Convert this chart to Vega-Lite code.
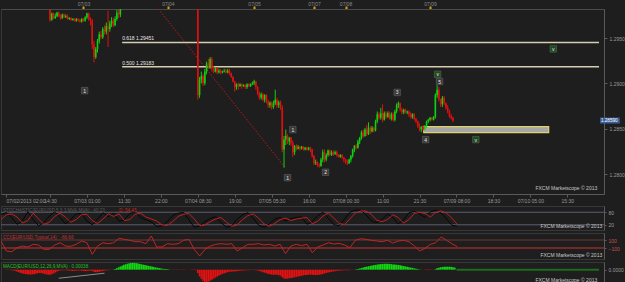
{
"$schema": "https://vega.github.io/schema/vega-lite/v6.json",
"background": "#1e1e1e",
"padding": 0,
"spacing": 1,
"config": {
 "font": "Liberation Sans",
 "view": {"stroke": "#383838", "strokeWidth": 1},
 "axis": {"grid": false, "title": null, "labelFontSize": 5, "labelColor": "#9a9a9a", "domainColor": "#5a5a5a", "tickColor": "#5a5a5a", "labelFont": "Liberation Sans"},
 "title": {"fontSize": 4.6, "font": "Liberation Sans", "fontWeight": "normal", "anchor": "start", "offset": -7, "dx": 2, "frame": "group"},
 "text": {"font": "Liberation Sans"}
},
"datasets": {
 "diag": [{"i": 86.6, "p": 1.2982}, {"i": 158.7, "p": 1.2807}],
 "fib": [{"lv": "0.618", "p": 1.29451, "lbl": "0.618 1.29451"}, {"lv": "0.500", "p": 1.29183, "lbl": "0.500 1.29183"}],
 "zone": [{"x0": 237.4, "x1": 308.4, "p0": 1.28522, "p1": 1.28456}],
 "waves": [
  {"i": 44.7, "p": 1.2892, "t": "1", "k": "w"},
  {"i": 163, "p": 1.2849, "t": "1", "k": "w"},
  {"i": 160, "p": 1.2796, "t": "1", "k": "w"},
  {"i": 181.6, "p": 1.2802, "t": "2", "k": "w"},
  {"i": 222.3, "p": 1.289, "t": "3", "k": "w"},
  {"i": 238.5, "p": 1.2838, "t": "4", "k": "w"},
  {"i": 246.4, "p": 1.2902, "t": "5", "k": "w"},
  {"i": 245.3, "p": 1.291, "t": "v", "k": "s"},
  {"i": 267, "p": 1.2838, "t": "v", "k": "s"},
  {"i": 311, "p": 1.2938, "t": "v", "k": "s"}
 ],
 "candles": [
  {"i":25,"o":1.2981,"h":1.2982,"l":1.2968,"c":1.2970},
  {"i":26,"o":1.2970,"h":1.2978,"l":1.2969,"c":1.2977},
  {"i":27,"o":1.2977,"h":1.2978,"l":1.2971,"c":1.2972},
  {"i":28,"o":1.2972,"h":1.2977,"l":1.2971,"c":1.2974},
  {"i":29,"o":1.2974,"h":1.2979,"l":1.2973,"c":1.2978},
  {"i":30,"o":1.2978,"h":1.2979,"l":1.2973,"c":1.2974},
  {"i":31,"o":1.2974,"h":1.2976,"l":1.2970,"c":1.2972},
  {"i":32,"o":1.2972,"h":1.2977,"l":1.2971,"c":1.2976},
  {"i":33,"o":1.2976,"h":1.2977,"l":1.2972,"c":1.2973},
  {"i":34,"o":1.2973,"h":1.2976,"l":1.2972,"c":1.2974},
  {"i":35,"o":1.2974,"h":1.2976,"l":1.2970,"c":1.2971},
  {"i":36,"o":1.2971,"h":1.2973,"l":1.2970,"c":1.2972},
  {"i":37,"o":1.2972,"h":1.2973,"l":1.2969,"c":1.2970},
  {"i":38,"o":1.2970,"h":1.2972,"l":1.2969,"c":1.2971},
  {"i":39,"o":1.2971,"h":1.2972,"l":1.2968,"c":1.2969},
  {"i":40,"o":1.2969,"h":1.2972,"l":1.2968,"c":1.2971},
  {"i":41,"o":1.2971,"h":1.2972,"l":1.2968,"c":1.2970},
  {"i":42,"o":1.2970,"h":1.2971,"l":1.2967,"c":1.2968},
  {"i":43,"o":1.2968,"h":1.2972,"l":1.2967,"c":1.2971},
  {"i":44,"o":1.2971,"h":1.2972,"l":1.2968,"c":1.2969},
  {"i":45,"o":1.2969,"h":1.2974,"l":1.2968,"c":1.2973},
  {"i":46,"o":1.2973,"h":1.2978,"l":1.2971,"c":1.2977},
  {"i":47,"o":1.2977,"h":1.2978,"l":1.2969,"c":1.2971},
  {"i":48,"o":1.2971,"h":1.2973,"l":1.2964,"c":1.2969},
  {"i":49,"o":1.2969,"h":1.2971,"l":1.2938,"c":1.2943},
  {"i":50,"o":1.2943,"h":1.2947,"l":1.2923,"c":1.2929},
  {"i":51,"o":1.2929,"h":1.2940,"l":1.2927,"c":1.2938},
  {"i":52,"o":1.2938,"h":1.2949,"l":1.2934,"c":1.2947},
  {"i":53,"o":1.2947,"h":1.2957,"l":1.2944,"c":1.2954},
  {"i":54,"o":1.2954,"h":1.2958,"l":1.2949,"c":1.2951},
  {"i":55,"o":1.2951,"h":1.2962,"l":1.2949,"c":1.2960},
  {"i":56,"o":1.2960,"h":1.2964,"l":1.2954,"c":1.2957},
  {"i":57,"o":1.2957,"h":1.2967,"l":1.2954,"c":1.2963},
  {"i":58,"o":1.2963,"h":1.2980,"l":1.2940,"c":1.2960},
  {"i":59,"o":1.2960,"h":1.2969,"l":1.2957,"c":1.2966},
  {"i":60,"o":1.2966,"h":1.2973,"l":1.2962,"c":1.2969},
  {"i":61,"o":1.2969,"h":1.2972,"l":1.2962,"c":1.2964},
  {"i":62,"o":1.2964,"h":1.2974,"l":1.2963,"c":1.2971},
  {"i":63,"o":1.2971,"h":1.2981,"l":1.2969,"c":1.2978},
  {"i":64,"o":1.2978,"h":1.2982,"l":1.2972,"c":1.2976},
  {"i":65,"o":1.2976,"h":1.2988,"l":1.2973,"c":1.2984},
  {"i":66,"o":1.2984,"h":1.2993,"l":1.2982,"c":1.2991},
  {"i":109,"o":1.3007,"h":1.3010,"l":1.2882,"c":1.2887},
  {"i":110,"o":1.2887,"h":1.2907,"l":1.2884,"c":1.2904},
  {"i":111,"o":1.2904,"h":1.2913,"l":1.2900,"c":1.2908},
  {"i":112,"o":1.2908,"h":1.2910,"l":1.2897,"c":1.2900},
  {"i":113,"o":1.2900,"h":1.2916,"l":1.2898,"c":1.2913},
  {"i":114,"o":1.2913,"h":1.2924,"l":1.2910,"c":1.2922},
  {"i":115,"o":1.2922,"h":1.2927,"l":1.2916,"c":1.2918},
  {"i":116,"o":1.2918,"h":1.2929,"l":1.2916,"c":1.2927},
  {"i":117,"o":1.2927,"h":1.2929,"l":1.2913,"c":1.2916},
  {"i":118,"o":1.2916,"h":1.2919,"l":1.2911,"c":1.2913},
  {"i":119,"o":1.2913,"h":1.2918,"l":1.2912,"c":1.2917},
  {"i":120,"o":1.2917,"h":1.2918,"l":1.2910,"c":1.2912},
  {"i":121,"o":1.2912,"h":1.2916,"l":1.2911,"c":1.2914},
  {"i":122,"o":1.2914,"h":1.2916,"l":1.2910,"c":1.2912},
  {"i":123,"o":1.2912,"h":1.2914,"l":1.2911,"c":1.2913},
  {"i":124,"o":1.2913,"h":1.2916,"l":1.2912,"c":1.2914},
  {"i":125,"o":1.2914,"h":1.2916,"l":1.2911,"c":1.2912},
  {"i":126,"o":1.2912,"h":1.2916,"l":1.2911,"c":1.2914},
  {"i":127,"o":1.2914,"h":1.2916,"l":1.2909,"c":1.2911},
  {"i":128,"o":1.2911,"h":1.2912,"l":1.2906,"c":1.2907},
  {"i":129,"o":1.2907,"h":1.2908,"l":1.2901,"c":1.2902},
  {"i":130,"o":1.2902,"h":1.2903,"l":1.2891,"c":1.2896},
  {"i":131,"o":1.2896,"h":1.2900,"l":1.2893,"c":1.2899},
  {"i":132,"o":1.2899,"h":1.2901,"l":1.2893,"c":1.2897},
  {"i":133,"o":1.2897,"h":1.2900,"l":1.2896,"c":1.2899},
  {"i":134,"o":1.2899,"h":1.2900,"l":1.2894,"c":1.2897},
  {"i":135,"o":1.2897,"h":1.2899,"l":1.2896,"c":1.2898},
  {"i":136,"o":1.2898,"h":1.2899,"l":1.2894,"c":1.2896},
  {"i":137,"o":1.2896,"h":1.2900,"l":1.2894,"c":1.2899},
  {"i":138,"o":1.2899,"h":1.2900,"l":1.2896,"c":1.2897},
  {"i":139,"o":1.2897,"h":1.2900,"l":1.2896,"c":1.2899},
  {"i":140,"o":1.2899,"h":1.2902,"l":1.2898,"c":1.2900},
  {"i":141,"o":1.2900,"h":1.2904,"l":1.2898,"c":1.2902},
  {"i":142,"o":1.2902,"h":1.2903,"l":1.2893,"c":1.2896},
  {"i":143,"o":1.2896,"h":1.2897,"l":1.2887,"c":1.2889},
  {"i":144,"o":1.2889,"h":1.2891,"l":1.2882,"c":1.2884},
  {"i":145,"o":1.2884,"h":1.2890,"l":1.2882,"c":1.2888},
  {"i":146,"o":1.2888,"h":1.2889,"l":1.2880,"c":1.2882},
  {"i":147,"o":1.2882,"h":1.2888,"l":1.2879,"c":1.2887},
  {"i":148,"o":1.2887,"h":1.2888,"l":1.2878,"c":1.2880},
  {"i":149,"o":1.2880,"h":1.2882,"l":1.2873,"c":1.2876},
  {"i":150,"o":1.2876,"h":1.2880,"l":1.2873,"c":1.2879},
  {"i":151,"o":1.2879,"h":1.2880,"l":1.2871,"c":1.2874},
  {"i":152,"o":1.2874,"h":1.2881,"l":1.2872,"c":1.2878},
  {"i":153,"o":1.2878,"h":1.2893,"l":1.2876,"c":1.2882},
  {"i":154,"o":1.2882,"h":1.2884,"l":1.2873,"c":1.2876},
  {"i":155,"o":1.2876,"h":1.2881,"l":1.2873,"c":1.2879},
  {"i":156,"o":1.2879,"h":1.2881,"l":1.2871,"c":1.2873},
  {"i":157,"o":1.2873,"h":1.2876,"l":1.2824,"c":1.2827},
  {"i":158,"o":1.2827,"h":1.2842,"l":1.2807,"c":1.2838},
  {"i":159,"o":1.2838,"h":1.2849,"l":1.2832,"c":1.2842},
  {"i":160,"o":1.2842,"h":1.2844,"l":1.2833,"c":1.2836},
  {"i":161,"o":1.2836,"h":1.2841,"l":1.2832,"c":1.2840},
  {"i":162,"o":1.2840,"h":1.2841,"l":1.2831,"c":1.2834},
  {"i":163,"o":1.2834,"h":1.2837,"l":1.2819,"c":1.2824},
  {"i":164,"o":1.2824,"h":1.2832,"l":1.2821,"c":1.2831},
  {"i":165,"o":1.2831,"h":1.2833,"l":1.2826,"c":1.2828},
  {"i":166,"o":1.2828,"h":1.2832,"l":1.2827,"c":1.2830},
  {"i":167,"o":1.2830,"h":1.2831,"l":1.2826,"c":1.2828},
  {"i":168,"o":1.2828,"h":1.2831,"l":1.2827,"c":1.2830},
  {"i":169,"o":1.2830,"h":1.2831,"l":1.2826,"c":1.2827},
  {"i":170,"o":1.2827,"h":1.2830,"l":1.2826,"c":1.2829},
  {"i":171,"o":1.2829,"h":1.2830,"l":1.2826,"c":1.2827},
  {"i":172,"o":1.2827,"h":1.2830,"l":1.2826,"c":1.2829},
  {"i":173,"o":1.2829,"h":1.2830,"l":1.2824,"c":1.2827},
  {"i":174,"o":1.2827,"h":1.2828,"l":1.2818,"c":1.2820},
  {"i":175,"o":1.2820,"h":1.2821,"l":1.2810,"c":1.2812},
  {"i":176,"o":1.2812,"h":1.2816,"l":1.2810,"c":1.2813},
  {"i":177,"o":1.2813,"h":1.2814,"l":1.2808,"c":1.2810},
  {"i":178,"o":1.2810,"h":1.2812,"l":1.2807,"c":1.2809},
  {"i":179,"o":1.2809,"h":1.2818,"l":1.2808,"c":1.2816},
  {"i":180,"o":1.2816,"h":1.2827,"l":1.2813,"c":1.2824},
  {"i":181,"o":1.2824,"h":1.2827,"l":1.2813,"c":1.2816},
  {"i":182,"o":1.2816,"h":1.2823,"l":1.2814,"c":1.2821},
  {"i":183,"o":1.2821,"h":1.2827,"l":1.2819,"c":1.2826},
  {"i":184,"o":1.2826,"h":1.2827,"l":1.2820,"c":1.2821},
  {"i":185,"o":1.2821,"h":1.2826,"l":1.2820,"c":1.2824},
  {"i":186,"o":1.2824,"h":1.2826,"l":1.2820,"c":1.2822},
  {"i":187,"o":1.2822,"h":1.2826,"l":1.2821,"c":1.2824},
  {"i":188,"o":1.2824,"h":1.2826,"l":1.2819,"c":1.2821},
  {"i":189,"o":1.2821,"h":1.2822,"l":1.2818,"c":1.2819},
  {"i":190,"o":1.2819,"h":1.2822,"l":1.2818,"c":1.2821},
  {"i":191,"o":1.2821,"h":1.2822,"l":1.2817,"c":1.2818},
  {"i":192,"o":1.2818,"h":1.2819,"l":1.2813,"c":1.2816},
  {"i":193,"o":1.2816,"h":1.2817,"l":1.2811,"c":1.2813},
  {"i":194,"o":1.2813,"h":1.2816,"l":1.2810,"c":1.2812},
  {"i":195,"o":1.2812,"h":1.2817,"l":1.2811,"c":1.2816},
  {"i":196,"o":1.2816,"h":1.2821,"l":1.2813,"c":1.2820},
  {"i":197,"o":1.2820,"h":1.2828,"l":1.2818,"c":1.2827},
  {"i":198,"o":1.2827,"h":1.2832,"l":1.2824,"c":1.2831},
  {"i":199,"o":1.2831,"h":1.2833,"l":1.2827,"c":1.2829},
  {"i":200,"o":1.2829,"h":1.2838,"l":1.2828,"c":1.2836},
  {"i":201,"o":1.2836,"h":1.2841,"l":1.2833,"c":1.2840},
  {"i":202,"o":1.2840,"h":1.2848,"l":1.2838,"c":1.2846},
  {"i":203,"o":1.2846,"h":1.2849,"l":1.2840,"c":1.2842},
  {"i":204,"o":1.2842,"h":1.2851,"l":1.2841,"c":1.2849},
  {"i":205,"o":1.2849,"h":1.2854,"l":1.2842,"c":1.2844},
  {"i":206,"o":1.2844,"h":1.2857,"l":1.2843,"c":1.2851},
  {"i":207,"o":1.2851,"h":1.2853,"l":1.2844,"c":1.2847},
  {"i":208,"o":1.2847,"h":1.2853,"l":1.2846,"c":1.2851},
  {"i":209,"o":1.2851,"h":1.2852,"l":1.2846,"c":1.2848},
  {"i":210,"o":1.2848,"h":1.2860,"l":1.2847,"c":1.2858},
  {"i":211,"o":1.2858,"h":1.2869,"l":1.2856,"c":1.2866},
  {"i":212,"o":1.2866,"h":1.2868,"l":1.2860,"c":1.2862},
  {"i":213,"o":1.2862,"h":1.2873,"l":1.2860,"c":1.2867},
  {"i":214,"o":1.2867,"h":1.2877,"l":1.2857,"c":1.2860},
  {"i":215,"o":1.2860,"h":1.2869,"l":1.2859,"c":1.2867},
  {"i":216,"o":1.2867,"h":1.2869,"l":1.2861,"c":1.2863},
  {"i":217,"o":1.2863,"h":1.2869,"l":1.2862,"c":1.2867},
  {"i":218,"o":1.2867,"h":1.2869,"l":1.2860,"c":1.2861},
  {"i":219,"o":1.2861,"h":1.2868,"l":1.2859,"c":1.2866},
  {"i":220,"o":1.2866,"h":1.2868,"l":1.2858,"c":1.2860},
  {"i":221,"o":1.2860,"h":1.2871,"l":1.2858,"c":1.2869},
  {"i":222,"o":1.2869,"h":1.2878,"l":1.2867,"c":1.2876},
  {"i":223,"o":1.2876,"h":1.2880,"l":1.2873,"c":1.2878},
  {"i":224,"o":1.2878,"h":1.2879,"l":1.2869,"c":1.2871},
  {"i":225,"o":1.2871,"h":1.2873,"l":1.2866,"c":1.2868},
  {"i":226,"o":1.2868,"h":1.2872,"l":1.2866,"c":1.2871},
  {"i":227,"o":1.2871,"h":1.2872,"l":1.2867,"c":1.2868},
  {"i":228,"o":1.2868,"h":1.2870,"l":1.2866,"c":1.2869},
  {"i":229,"o":1.2869,"h":1.2870,"l":1.2863,"c":1.2866},
  {"i":230,"o":1.2866,"h":1.2868,"l":1.2861,"c":1.2863},
  {"i":231,"o":1.2863,"h":1.2867,"l":1.2861,"c":1.2866},
  {"i":232,"o":1.2866,"h":1.2867,"l":1.2859,"c":1.2861},
  {"i":233,"o":1.2861,"h":1.2862,"l":1.2856,"c":1.2858},
  {"i":234,"o":1.2858,"h":1.2859,"l":1.2851,"c":1.2853},
  {"i":235,"o":1.2853,"h":1.2856,"l":1.2847,"c":1.2849},
  {"i":236,"o":1.2849,"h":1.2853,"l":1.2846,"c":1.2852},
  {"i":237,"o":1.2852,"h":1.2854,"l":1.2848,"c":1.2849},
  {"i":238,"o":1.2849,"h":1.2854,"l":1.2848,"c":1.2853},
  {"i":239,"o":1.2853,"h":1.2859,"l":1.2851,"c":1.2858},
  {"i":240,"o":1.2858,"h":1.2861,"l":1.2856,"c":1.2860},
  {"i":241,"o":1.2860,"h":1.2863,"l":1.2858,"c":1.2862},
  {"i":242,"o":1.2862,"h":1.2863,"l":1.2859,"c":1.2860},
  {"i":243,"o":1.2860,"h":1.2864,"l":1.2859,"c":1.2863},
  {"i":244,"o":1.2863,"h":1.2889,"l":1.2861,"c":1.2887},
  {"i":245,"o":1.2887,"h":1.2898,"l":1.2884,"c":1.2893},
  {"i":246,"o":1.2893,"h":1.2896,"l":1.2880,"c":1.2882},
  {"i":247,"o":1.2882,"h":1.2883,"l":1.2874,"c":1.2877},
  {"i":248,"o":1.2877,"h":1.2886,"l":1.2874,"c":1.2884},
  {"i":249,"o":1.2884,"h":1.2886,"l":1.2876,"c":1.2878},
  {"i":250,"o":1.2878,"h":1.2879,"l":1.2871,"c":1.2873},
  {"i":251,"o":1.2873,"h":1.2876,"l":1.2867,"c":1.2869},
  {"i":252,"o":1.2869,"h":1.2871,"l":1.2862,"c":1.2864},
  {"i":253,"o":1.2864,"h":1.2866,"l":1.2860,"c":1.2862},
  {"i":254,"o":1.2862,"h":1.2863,"l":1.2857,"c":1.2859}
 ],
 "osc": [
  {"i":0,"k":70,"d":45,"cci":75},{"i":3,"k":78,"d":68,"cci":-175},{"i":6,"k":55,"d":72,"cci":-192},{"i":9,"k":22,"d":57,"cci":-92},
  {"i":12,"k":40,"d":28,"cci":-50},{"i":15,"k":82,"d":40,"cci":-75},{"i":18,"k":45,"d":76,"cci":-8},{"i":21,"k":15,"d":48,"cci":-25},
  {"i":24,"k":30,"d":22,"cci":-133},{"i":27,"k":62,"d":32,"cci":-133},{"i":30,"k":82,"d":60,"cci":-25},{"i":33,"k":55,"d":76,"cci":33},
  {"i":36,"k":25,"d":57,"cci":-50},{"i":39,"k":45,"d":32,"cci":-58},{"i":42,"k":72,"d":45,"cci":-8},{"i":45,"k":74,"d":68,"cci":75},
  {"i":48,"k":38,"d":70,"cci":33},{"i":51,"k":20,"d":40,"cci":-258},{"i":54,"k":48,"d":26,"cci":-50},{"i":57,"k":78,"d":48,"cci":33},
  {"i":60,"k":58,"d":72,"cci":8},{"i":63,"k":76,"d":60,"cci":33},{"i":66,"k":36,"d":72,"cci":142},{"i":69,"k":44,"d":40,"cci":117},
  {"i":72,"k":74,"d":45,"cci":92},{"i":75,"k":82,"d":70,"cci":58},{"i":78,"k":55,"d":76,"cci":58},{"i":81,"k":44,"d":57,"cci":8},
  {"i":84,"k":34,"d":48,"cci":200},{"i":87,"k":12,"d":38,"cci":-75},{"i":90,"k":14,"d":19,"cci":-75},{"i":93,"k":36,"d":18,"cci":8},
  {"i":96,"k":64,"d":35,"cci":-8},{"i":99,"k":75,"d":60,"cci":8},{"i":102,"k":80,"d":70,"cci":92},{"i":105,"k":44,"d":74,"cci":117},
  {"i":108,"k":8,"d":48,"cci":-133},{"i":111,"k":14,"d":16,"cci":-300},{"i":114,"k":35,"d":19,"cci":-133},{"i":117,"k":50,"d":35,"cci":-50},
  {"i":120,"k":58,"d":48,"cci":-8},{"i":123,"k":30,"d":55,"cci":8},{"i":126,"k":8,"d":32,"cci":-8},{"i":129,"k":15,"d":13,"cci":8},
  {"i":132,"k":47,"d":19,"cci":-175},{"i":135,"k":68,"d":45,"cci":-92},{"i":138,"k":78,"d":64,"cci":-8},{"i":141,"k":50,"d":72,"cci":-8},
  {"i":144,"k":18,"d":52,"cci":8},{"i":147,"k":8,"d":24,"cci":-25},{"i":150,"k":24,"d":13,"cci":-8},{"i":153,"k":47,"d":26,"cci":-50},
  {"i":156,"k":55,"d":45,"cci":-8},{"i":159,"k":38,"d":52,"cci":-242},{"i":162,"k":49,"d":40,"cci":-50},{"i":165,"k":54,"d":48,"cci":-8},
  {"i":168,"k":58,"d":52,"cci":-42},{"i":171,"k":22,"d":55,"cci":-8},{"i":174,"k":35,"d":25,"cci":-217},{"i":177,"k":64,"d":37,"cci":-75},
  {"i":180,"k":80,"d":62,"cci":-25},{"i":183,"k":50,"d":76,"cci":33},{"i":186,"k":20,"d":52,"cci":0},{"i":189,"k":16,"d":26,"cci":17},
  {"i":192,"k":48,"d":21,"cci":-25},{"i":195,"k":80,"d":48,"cci":-92},{"i":198,"k":90,"d":76,"cci":92},{"i":201,"k":90,"d":86,"cci":133},
  {"i":204,"k":68,"d":86,"cci":117},{"i":207,"k":38,"d":70,"cci":92},{"i":210,"k":30,"d":42,"cci":75},{"i":213,"k":46,"d":35,"cci":58},
  {"i":216,"k":72,"d":45,"cci":92},{"i":219,"k":55,"d":68,"cci":25},{"i":222,"k":24,"d":55,"cci":75},{"i":225,"k":44,"d":28,"cci":92},
  {"i":228,"k":78,"d":45,"cci":58},{"i":231,"k":84,"d":74,"cci":-50},{"i":234,"k":72,"d":80,"cci":-175},{"i":237,"k":55,"d":74,"cci":-108},
  {"i":240,"k":82,"d":57,"cci":-8},{"i":243,"k":90,"d":80,"cci":33},{"i":246,"k":76,"d":86,"cci":175},{"i":249,"k":48,"d":76,"cci":92},
  {"i":252,"k":18,"d":52,"cci":8},{"i":255,"k":12,"d":22,"cci":-67}
 ],
 "macd": [
  {"i":0,"m":-0.00003},{"i":1,"m":-0.00004},{"i":2,"m":-0.00003},{"i":3,"m":-0.00005},{"i":4,"m":-0.00008},{"i":5,"m":-0.00012},{"i":6,"m":-0.00018},{"i":7,"m":-0.00025},{"i":8,"m":-0.00032},{"i":9,"m":-0.00038},
  {"i":10,"m":-0.00043},{"i":11,"m":-0.00046},{"i":12,"m":-0.00048},{"i":13,"m":-0.0005},{"i":14,"m":-0.00051},{"i":15,"m":-0.0005},{"i":16,"m":-0.00047},{"i":17,"m":-0.00042},{"i":18,"m":-0.00038},{"i":19,"m":-0.00035},
  {"i":20,"m":-0.00036},{"i":21,"m":-0.0004},{"i":22,"m":-0.00045},{"i":23,"m":-0.0005},{"i":24,"m":-0.00053},{"i":25,"m":-0.00052},{"i":26,"m":-0.00048},{"i":27,"m":-0.0004},{"i":28,"m":-0.0003},{"i":29,"m":-0.0002},
  {"i":30,"m":-0.00012},{"i":31,"m":-0.00008},{"i":32,"m":-0.00006},{"i":33,"m":-0.00005},{"i":34,"m":-0.00006},{"i":35,"m":-0.00008},{"i":36,"m":-0.0001},{"i":37,"m":-0.00012},{"i":38,"m":-0.00013},{"i":39,"m":-0.00012},
  {"i":40,"m":-0.0001},{"i":41,"m":-0.00009},{"i":42,"m":-0.0001},{"i":43,"m":-0.00012},{"i":44,"m":-0.00014},{"i":45,"m":-0.00015},{"i":46,"m":-0.00014},{"i":47,"m":-0.00012},{"i":48,"m":-0.0001},{"i":49,"m":-0.00014},
  {"i":50,"m":-0.00022},{"i":51,"m":-0.00026},{"i":52,"m":-0.00025},{"i":53,"m":-0.00022},{"i":54,"m":-0.00018},{"i":55,"m":-0.00014},{"i":56,"m":-0.0001},{"i":57,"m":-0.00007},{"i":58,"m":-0.00005},{"i":59,"m":-0.00003},
  {"i":60,"m":-0.00001},{"i":61,"m":0.00002},{"i":62,"m":0.00008},{"i":63,"m":0.00015},{"i":64,"m":0.00024},{"i":65,"m":0.00033},{"i":66,"m":0.00042},{"i":67,"m":0.0005},{"i":68,"m":0.00056},{"i":69,"m":0.00062},
  {"i":70,"m":0.00066},{"i":71,"m":0.0007},{"i":72,"m":0.00071},{"i":73,"m":0.0007},{"i":74,"m":0.00068},{"i":75,"m":0.00064},{"i":76,"m":0.0006},{"i":77,"m":0.00056},{"i":78,"m":0.00052},{"i":79,"m":0.00048},
  {"i":80,"m":0.00044},{"i":81,"m":0.0004},{"i":82,"m":0.00036},{"i":83,"m":0.00032},{"i":84,"m":0.00028},{"i":85,"m":0.00024},{"i":86,"m":0.0002},{"i":87,"m":0.00016},{"i":88,"m":0.00013},{"i":89,"m":0.0001},
  {"i":90,"m":0.00008},{"i":91,"m":0.00006},{"i":92,"m":0.00004},{"i":93,"m":0.00002},{"i":94,"m":-0.00001},{"i":95,"m":-0.00002},{"i":96,"m":-0.00003},{"i":97,"m":-0.00003},{"i":98,"m":-0.00002},{"i":99,"m":-0.00002},
  {"i":100,"m":-0.00003},{"i":101,"m":-0.00003},{"i":102,"m":-0.00002},{"i":103,"m":-0.00001},{"i":104,"m":-0.00001},{"i":105,"m":-0.00002},{"i":106,"m":-0.00003},{"i":107,"m":-0.00004},{"i":108,"m":-0.00006},{"i":109,"m":-0.00035},
  {"i":110,"m":-0.0007},{"i":111,"m":-0.00095},{"i":112,"m":-0.00115},{"i":113,"m":-0.00128},{"i":114,"m":-0.0013},{"i":115,"m":-0.00125},{"i":116,"m":-0.00116},{"i":117,"m":-0.00105},{"i":118,"m":-0.00094},{"i":119,"m":-0.00083},
  {"i":120,"m":-0.00072},{"i":121,"m":-0.00062},{"i":122,"m":-0.00053},{"i":123,"m":-0.00045},{"i":124,"m":-0.00038},{"i":125,"m":-0.00032},{"i":126,"m":-0.00026},{"i":127,"m":-0.00022},{"i":128,"m":-0.0002},{"i":129,"m":-0.00019},
  {"i":130,"m":-0.00018},{"i":131,"m":-0.00016},{"i":132,"m":-0.00014},{"i":133,"m":-0.00012},{"i":134,"m":-0.0001},{"i":135,"m":-0.00008},{"i":136,"m":-0.00007},{"i":137,"m":-0.00006},{"i":138,"m":-0.00005},{"i":139,"m":-0.00004},
  {"i":140,"m":-0.00004},{"i":141,"m":-0.00003},{"i":142,"m":-0.00005},{"i":143,"m":-0.00009},{"i":144,"m":-0.00014},{"i":145,"m":-0.0002},{"i":146,"m":-0.00026},{"i":147,"m":-0.00032},{"i":148,"m":-0.00038},{"i":149,"m":-0.00044},
  {"i":150,"m":-0.00048},{"i":151,"m":-0.00052},{"i":152,"m":-0.00054},{"i":153,"m":-0.00053},{"i":154,"m":-0.00054},{"i":155,"m":-0.00058},{"i":156,"m":-0.00062},{"i":157,"m":-0.0008},{"i":158,"m":-0.00092},{"i":159,"m":-0.00096},
  {"i":160,"m":-0.00094},{"i":161,"m":-0.0009},{"i":162,"m":-0.00086},{"i":163,"m":-0.00084},{"i":164,"m":-0.0008},{"i":165,"m":-0.00076},{"i":166,"m":-0.00072},{"i":167,"m":-0.00068},{"i":168,"m":-0.00064},{"i":169,"m":-0.0006},
  {"i":170,"m":-0.00057},{"i":171,"m":-0.00055},{"i":172,"m":-0.00053},{"i":173,"m":-0.00052},{"i":174,"m":-0.00053},{"i":175,"m":-0.00056},{"i":176,"m":-0.00057},{"i":177,"m":-0.00056},{"i":178,"m":-0.00054},{"i":179,"m":-0.0005},
  {"i":180,"m":-0.00046},{"i":181,"m":-0.0004},{"i":182,"m":-0.00035},{"i":183,"m":-0.0003},{"i":184,"m":-0.00026},{"i":185,"m":-0.00022},{"i":186,"m":-0.00019},{"i":187,"m":-0.00016},{"i":188,"m":-0.00013},{"i":189,"m":-0.00011},
  {"i":190,"m":-0.00009},{"i":191,"m":-0.00008},{"i":192,"m":-0.00007},{"i":193,"m":-0.00007},{"i":194,"m":-0.00006},{"i":195,"m":-0.00005},{"i":196,"m":-0.00004},{"i":197,"m":-0.00002},{"i":198,"m":0.00001},{"i":199,"m":0.00004},
  {"i":200,"m":0.00008},{"i":201,"m":0.00012},{"i":202,"m":0.00017},{"i":203,"m":0.00022},{"i":204,"m":0.00027},{"i":205,"m":0.00031},{"i":206,"m":0.00035},{"i":207,"m":0.00039},{"i":208,"m":0.00043},{"i":209,"m":0.00047},
  {"i":210,"m":0.0005},{"i":211,"m":0.00053},{"i":212,"m":0.00056},{"i":213,"m":0.00058},{"i":214,"m":0.0006},{"i":215,"m":0.00061},{"i":216,"m":0.00062},{"i":217,"m":0.00061},{"i":218,"m":0.0006},{"i":219,"m":0.00058},
  {"i":220,"m":0.00055},{"i":221,"m":0.00053},{"i":222,"m":0.00051},{"i":223,"m":0.00049},{"i":224,"m":0.00046},{"i":225,"m":0.00042},{"i":226,"m":0.00038},{"i":227,"m":0.00034},{"i":228,"m":0.0003},{"i":229,"m":0.00026},
  {"i":230,"m":0.00022},{"i":231,"m":0.00018},{"i":232,"m":0.00014},{"i":233,"m":0.0001},{"i":234,"m":0.00006},{"i":235,"m":0.00003},{"i":236,"m":0.00001},{"i":237,"m":-0.00002},{"i":238,"m":-0.00004},{"i":239,"m":-0.00005},
  {"i":240,"m":-0.00005},{"i":241,"m":-0.00004},{"i":242,"m":-0.00003},{"i":243,"m":-0.00001},{"i":244,"m":0.00006},{"i":245,"m":0.00014},{"i":246,"m":0.0002},{"i":247,"m":0.00025},{"i":248,"m":0.00028},{"i":249,"m":0.0003},
  {"i":250,"m":0.00031},{"i":251,"m":0.00031},{"i":252,"m":0.0003},{"i":253,"m":0.00029},{"i":254,"m":0.00026},{"i":255,"m":0.00022}
 ]
},
"vconcat": [
 {
  "width": 603, "height": 185,
  "resolve": {"axis": {"x": "independent"}},
  "layer": [
   {
    "data": {"name": "diag"},
    "mark": {"type": "line", "color": "#b81a1a", "strokeWidth": 1, "strokeDash": [1.5, 1.5], "clip": true},
    "encoding": {
     "x": {"field": "i", "type": "quantitative", "scale": {"domain": [0, 337], "nice": false, "zero": false},
      "axis": {"orient": "top", "values": [44, 92, 141, 175, 193, 241], "labelExpr": "['07/03','07/04','07/05','07/07','07/08','07/09'][indexof([44,92,141,175,193,241], datum.value)]", "tickColor": "#d4a017", "tickWidth": 2, "tickSize": 3, "labelPadding": 0, "labelColor": "#8a8a8a", "domainColor": "#4a4a4a"}},
     "y": {"field": "p", "type": "quantitative", "scale": {"domain": [1.2778, 1.2982], "nice": false, "zero": false}}
    }
   },
   {
    "data": {"name": "fib"},
    "mark": {"type": "rule", "color": "#d6ceb0", "strokeWidth": 1.5},
    "encoding": {"x": {"datum": 66, "axis": null}, "x2": {"datum": 337}, "y": {"field": "p", "type": "quantitative"}}
   },
   {
    "data": {"name": "fib"},
    "mark": {"type": "text", "align": "left", "baseline": "bottom", "dy": -1, "fontSize": 5, "color": "#e6e6e6"},
    "encoding": {"x": {"datum": 66, "axis": null}, "y": {"field": "p", "type": "quantitative"}, "text": {"field": "lbl"}}
   },
   {
    "data": {"name": "zone"},
    "mark": {"type": "rect", "fill": "#a6a6a6", "stroke": "#ddd36a", "strokeWidth": 1.2},
    "encoding": {"x": {"field": "x0", "type": "quantitative", "axis": null}, "x2": {"field": "x1"}, "y": {"field": "p0", "type": "quantitative"}, "y2": {"field": "p1"}}
   },
   {
    "data": {"name": "candles"},
    "mark": {"type": "rule", "strokeWidth": 1, "clip": true},
    "encoding": {
     "x": {"field": "i", "type": "quantitative",
      "axis": {"orient": "bottom", "values": [0,25,46,67,88,109,130,151,172,193,214,235,256,277,298,319], "labelExpr": "['07/02/2013 02:00','14:30','07/03 01:00','11:30','22:00','07/04 08:30','19:00','07/05 05:30','16:00','07/08 00:30','11:00','21:30','07/09 08:00','18:30','07/10 05:00','15:30'][indexof([0,25,46,67,88,109,130,151,172,193,214,235,256,277,298,319], datum.value)]", "labelAlign": {"condition": {"test": "datum.value == 0", "value": "left"}, "value": "center"}, "labelBound": false, "labelOverlap": false, "tickSize": 3, "labelPadding": 1}},
     "y": {"field": "l", "type": "quantitative", "axis": {"orient": "right", "values": [1.28, 1.285, 1.29, 1.295], "format": ".4f", "tickSize": 3, "labelPadding": 2}},
     "y2": {"field": "h"},
     "color": {"condition": {"test": "datum.c >= datum.o", "value": "#10d010"}, "value": "#e01010"}
    }
   },
   {
    "data": {"name": "candles"},
    "mark": {"type": "bar", "size": 1.6, "clip": true},
    "encoding": {
     "x": {"field": "i", "type": "quantitative", "axis": null},
     "y": {"field": "o", "type": "quantitative"}, "y2": {"field": "c"},
     "color": {"condition": {"test": "datum.c >= datum.o", "value": "#10d010"}, "value": "#e01010"}
    }
   },
   {
    "data": {"name": "waves"},
    "mark": {"type": "point", "shape": "square", "size": 42, "filled": true, "opacity": 1, "stroke": "#6a6a6a", "strokeWidth": 0.5},
    "encoding": {"x": {"field": "i", "type": "quantitative", "axis": null}, "y": {"field": "p", "type": "quantitative"},
     "fill": {"field": "k", "type": "nominal", "scale": {"domain": ["w", "s"], "range": ["#3a3a3a", "#1c4d1c"]}, "legend": null}}
   },
   {
    "data": {"name": "waves"},
    "mark": {"type": "text", "fontSize": 5, "color": "#e6e6e6", "baseline": "middle", "align": "center"},
    "encoding": {"x": {"field": "i", "type": "quantitative", "axis": null}, "y": {"field": "p", "type": "quantitative"}, "text": {"field": "t"}}
   },
   {
    "data": {"values": [{}]},
    "mark": {"type": "text", "text": "FXCM Marketscope © 2013", "fontSize": 5, "color": "#c8c8c8", "align": "right", "baseline": "bottom", "dy": -2},
    "encoding": {"x": {"datum": 336, "axis": null}, "y": {"datum": 1.2779}}
   },
   {
    "data": {"values": [{}]},
    "mark": {"type": "rect", "fill": "#3a5f98", "clip": false},
    "encoding": {"x": {"datum": 337.6, "axis": null}, "x2": {"datum": 348.8}, "y": {"datum": 1.28623}, "y2": {"datum": 1.28557}}
   },
   {
    "data": {"values": [{}]},
    "mark": {"type": "text", "text": "1.28590", "fontSize": 4.6, "color": "#ffffff", "align": "left", "baseline": "middle", "clip": false},
    "encoding": {"x": {"datum": 338.1, "axis": null}, "y": {"datum": 1.2859}}
   }
  ]
 },
 {
  "width": 603, "height": 24,
  "title": {"text": "STOCHASTIC(EUR/USD,5,3,3,MVA,MVA) : 40.23", "color": "#5a5a5a"},
  "layer": [
   {
    "data": {"values": [{"lv": 80}, {"lv": 20}]},
    "mark": {"type": "rule", "color": "#5c5c74", "strokeWidth": 1},
    "encoding": {"y": {"field": "lv", "type": "quantitative", "scale": {"domain": [-5, 110], "nice": false, "zero": false}, "axis": {"orient": "right", "values": [20, 80], "tickSize": 2, "labelPadding": 2}}}
   },
   {
    "data": {"name": "osc"},
    "mark": {"type": "line", "color": "#060606", "strokeWidth": 1, "clip": true},
    "encoding": {"x": {"field": "i", "type": "quantitative", "scale": {"domain": [0, 337], "nice": false, "zero": false}, "axis": null}, "y": {"field": "k", "type": "quantitative"}}
   },
   {
    "data": {"name": "osc"},
    "mark": {"type": "line", "color": "#c42020", "strokeWidth": 1, "clip": true},
    "encoding": {"x": {"field": "i", "type": "quantitative", "axis": null}, "y": {"field": "d", "type": "quantitative"}}
   },
   {
    "data": {"values": [{}]},
    "mark": {"type": "text", "text": "D: 54.45", "color": "#d02020", "fontSize": 4.6, "align": "left", "baseline": "bottom", "dy": 7},
    "encoding": {"x": {"datum": 66, "axis": null}, "y": {"datum": 110}}
   },
   {
    "data": {"values": [{}]},
    "mark": {"type": "text", "text": "FXCM Marketscope © 2013", "fontSize": 5, "color": "#c8c8c8", "align": "right", "baseline": "bottom", "dy": -1},
    "encoding": {"x": {"datum": 336, "axis": null}, "y": {"datum": -5}}
   }
  ]
 },
 {
  "width": 603, "height": 26,
  "title": {"text": "CCI(EUR/USD,Typical,14) : -66.66", "color": "#c83030"},
  "layer": [
   {
    "data": {"values": [{"lv": 100, "c": "hi"}, {"lv": -100, "c": "lo"}]},
    "mark": {"type": "rule", "strokeWidth": 1},
    "encoding": {"y": {"field": "lv", "type": "quantitative", "scale": {"domain": [-375, 275], "nice": false, "zero": false}, "axis": {"orient": "right", "values": [-100, 100], "tickSize": 2, "labelPadding": 2, "labelColor": "#c85050"}},
     "color": {"field": "c", "type": "nominal", "scale": {"domain": ["hi", "lo"], "range": ["#6e3434", "#c83232"]}, "legend": null}}
   },
   {
    "data": {"name": "osc"},
    "mark": {"type": "line", "color": "#c02626", "strokeWidth": 1, "clip": true},
    "encoding": {"x": {"field": "i", "type": "quantitative", "scale": {"domain": [0, 337], "nice": false, "zero": false}, "axis": null}, "y": {"field": "cci", "type": "quantitative"}}
   },
   {
    "data": {"values": [{}]},
    "mark": {"type": "text", "text": "FXCM Marketscope © 2013", "fontSize": 5, "color": "#c8c8c8", "align": "right", "baseline": "bottom", "dy": -1},
    "encoding": {"x": {"datum": 336, "axis": null}, "y": {"datum": -375}}
   }
  ]
 },
 {
  "width": 603, "height": 22,
  "title": {"text": "MACD(EUR/USD,12,26,9,MVA) : 0.00038", "color": "#22c022"},
  "layer": [
   {
    "data": {"name": "macd"},
    "mark": {"type": "bar", "size": 1.7, "clip": true},
    "encoding": {
     "x": {"field": "i", "type": "quantitative", "scale": {"domain": [0, 337], "nice": false, "zero": false}, "axis": null},
     "y": {"field": "m", "type": "quantitative", "scale": {"domain": [-0.0015, 0.0008], "nice": false, "zero": false}, "axis": {"orient": "right", "values": [0], "format": ".4f", "tickSize": 2, "labelPadding": 2}},
     "y2": {"datum": 0},
     "color": {"condition": {"test": "datum.m >= 0", "value": "#12d812"}, "value": "#e01212"}
    }
   },
   {
    "data": {"values": [{}]},
    "mark": {"type": "rule", "color": "#1d6b1d", "strokeWidth": 2},
    "encoding": {"x": {"datum": 256, "axis": null}, "x2": {"datum": 337}, "y": {"datum": 0}}
   },
   {
    "data": {"values": [{"i": 30, "v": -0.0009}, {"i": 56, "v": -0.00037}]},
    "mark": {"type": "line", "color": "#8c8c8c", "strokeWidth": 1},
    "encoding": {"x": {"field": "i", "type": "quantitative", "axis": null}, "y": {"field": "v", "type": "quantitative"}}
   },
   {
    "data": {"values": [{}]},
    "mark": {"type": "text", "text": "FXCM Marketscope © 2013", "fontSize": 5, "color": "#c8c8c8", "align": "right", "baseline": "bottom", "dy": -1},
    "encoding": {"x": {"datum": 336, "axis": null}, "y": {"datum": -0.0015}}
   }
  ]
 }
]
}
